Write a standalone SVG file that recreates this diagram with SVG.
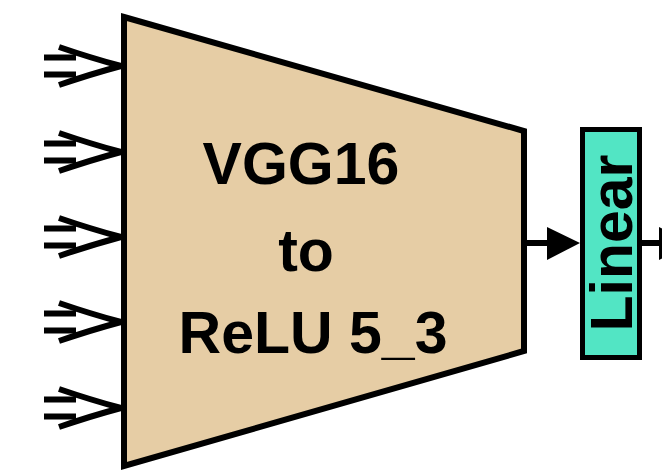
<svg xmlns="http://www.w3.org/2000/svg" width="662" height="471" viewBox="0 0 662 471">
  <style>
    .body { fill: #E6CDA5; stroke: #000; stroke-width: 6; stroke-linejoin: miter; }
    .lin { fill: #52E5C4; stroke: #000; stroke-width: 5; }
    .lbl { font-family: "Liberation Sans", Arial, sans-serif; font-weight: bold; font-size: 59px; fill: #000; text-anchor: middle; }
    .wire { stroke: #000; stroke-width: 6; fill: none; }
    .in { stroke: #000; stroke-width: 6; fill: none; stroke-linecap: butt; }
  </style>
  <defs>
    <!-- double-shaft input arrow, tip at (0,0) -->
    <g id="inArrow">
      <line class="in" x1="-77" y1="-8.5" x2="-45" y2="-8.5"/>
      <line class="in" x1="-77" y1="8.5" x2="-45" y2="8.5"/>
      <path class="in" d="M-62,-19 Q-30,-8 0,0 Q-30,8 -62,19"/>
    </g>
  </defs>

  <g id="inputs">
    <use href="#inArrow" x="121" y="66"/>
    <use href="#inArrow" x="121" y="152"/>
    <use href="#inArrow" x="121" y="237"/>
    <use href="#inArrow" x="121" y="322"/>
    <use href="#inArrow" x="121" y="408"/>
  </g>

  <g id="vgg">
    <polygon class="body" points="124,17 524,131 524,351 124,466"/>
    <text class="lbl" x="301" y="184">VGG16</text>
    <text class="lbl" x="306" y="271">to</text>
    <text class="lbl" x="313" y="353">ReLU 5_3</text>
  </g>

  <g id="connectors">
    <line class="wire" x1="524" y1="243" x2="550" y2="243" stroke-width="5"/>
    <polygon points="547,227 580,243 547,260" fill="#000"/>
    <line class="wire" x1="642" y1="243" x2="662" y2="243" stroke-width="5"/>
    <polygon points="659,227 692,243 659,260" fill="#000"/>
  </g>

  <g id="linear">
    <rect class="lin" x="582.5" y="129.5" width="57" height="228"/>
    <text class="lbl" transform="translate(632,243) rotate(-90)" font-size="58">Linear</text>
  </g>
</svg>
